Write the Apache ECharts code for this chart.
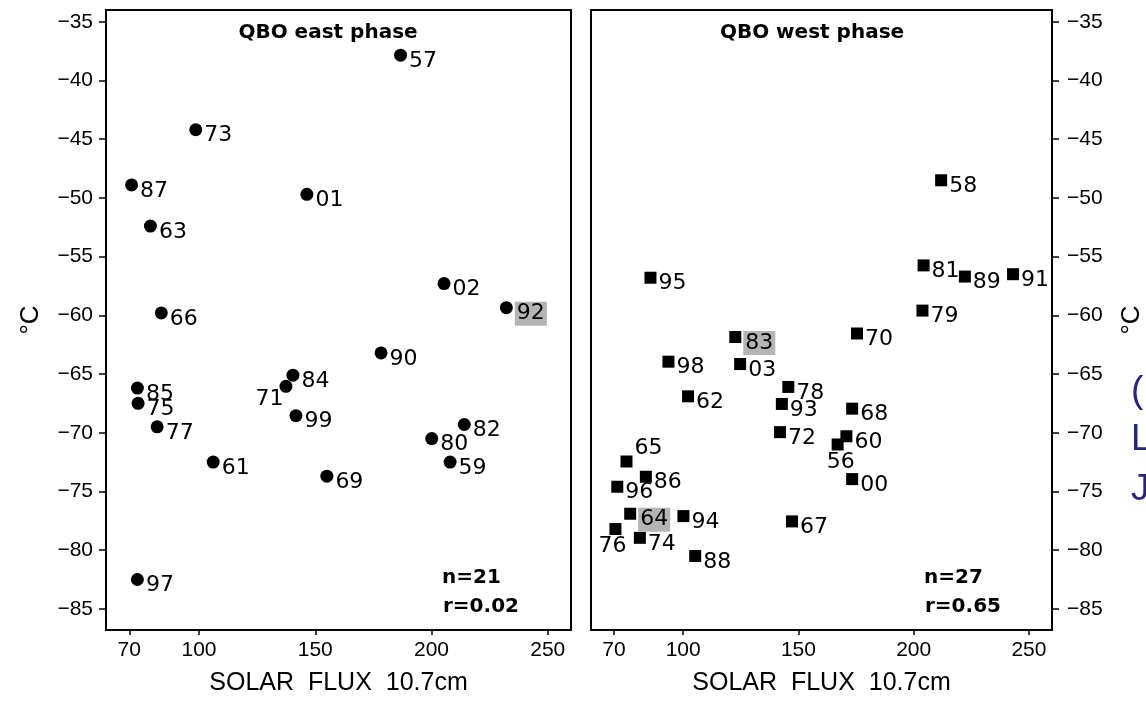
<!DOCTYPE html>
<html>
<head>
<meta charset="utf-8">
<script src="https://cdn.jsdelivr.net/npm/echarts@6/dist/echarts.min.js"></script>
<style>
    html, body { margin: 0; padding: 0; background: #fff; }
    #main { width: 1146px; height: 701px; }
</style>
</head>
<body>
<div id="main"></div>
<script>
    // QBO east phase (circles)
    var eastYear = ['57', '73', '87', '01', '63', '02', '92', '66', '90', '84', '71', '85', '75', '99', '77', '61', '69', '80', '82', '59', '97'];
    var eastFlux = [186.7, 98.6, 71.0, 146.4, 79.1, 205.4, 232.2, 83.8, 178.3, 140.4, 137.4, 73.5, 73.8, 141.7, 82.0, 106.1, 155.0, 200.1, 214.1, 208.0, 73.5];
    var eastTemp = [-37.85, -44.2, -48.9, -49.7, -52.4, -57.3, -59.35, -59.8, -63.2, -65.1, -66.05, -66.2, -67.5, -68.55, -69.5, -72.5, -73.7, -70.5, -69.3, -72.5, -82.5];

    // QBO west phase (squares)
    var westYear = ['58', '95', '81', '89', '91', '79', '83', '70', '98', '03', '78', '62', '93', '68', '72', '60', '56', '65', '86', '00', '96', '64', '94', '67', '76', '74', '88'];
    var westFlux = [211.9, 85.8, 204.3, 222.2, 243.1, 203.8, 122.6, 175.4, 93.6, 124.7, 145.6, 102.1, 142.8, 173.3, 142.0, 170.8, 167.0, 75.4, 83.8, 173.3, 71.4, 77.0, 100.1, 147.2, 70.6, 81.2, 105.2];
    var westTemp = [-48.5, -56.8, -55.75, -56.7, -56.5, -59.6, -61.85, -61.55, -63.95, -64.15, -66.1, -66.9, -67.55, -67.95, -69.95, -70.3, -71.0, -72.45, -73.75, -73.95, -74.6, -76.9, -77.1, -77.55, -78.2, -78.95, -80.5];

    var xTicks = [70, 100, 150, 200, 250];
    var yTicks = [-85, -80, -75, -70, -65, -60, -55, -50, -45, -40, -35];
    var boxed = ['92', '83', '64'];

    // labels not sitting to the right of their mark
    var labelPlace = {
        '71': {position: 'left', distance: 0, offset: [4, 13]},
        '76': {position: 'bottom', distance: 0, offset: [-3, 0]},
        '56': {position: 'bottom', distance: 1, offset: [3, 0]},
        '65': {position: 'right', offset: [0, -13]}
    };

    function makeData(xs, ys, yrs) {
        return xs.map(function (x, i) {
            var lab = {};
            if (labelPlace[yrs[i]]) Object.assign(lab, labelPlace[yrs[i]]);
            if (boxed.indexOf(yrs[i]) >= 0) {
                lab.backgroundColor = '#b4b4b4';
                lab.padding = [1, 2];
            }
            return {value: [x, ys[i], yrs[i]], label: lab};
        });
    }

    var minus = function (v) { return String(v).replace('-', '\u2212'); };
    var tickFont = {fontFamily: 'Liberation Sans', fontSize: 21, color: '#000'};

    function xAxisOf(gi) {
        return {
            gridIndex: gi, type: 'value', min: 60, max: 260,
            name: 'SOLAR  FLUX  10.7cm', nameLocation: 'middle', nameGap: 41,
            nameTextStyle: {fontFamily: 'Liberation Sans', fontSize: 25, color: '#000'},
            axisLine: {show: true, onZero: false, lineStyle: {color: '#000', width: 2}},
            axisTick: {show: true, customValues: xTicks, length: 5, lineStyle: {color: '#000', width: 1.5}},
            axisLabel: Object.assign({customValues: xTicks, margin: 10}, tickFont),
            splitLine: {show: false}
        };
    }

    function yAxisOf(gi, pos) {
        return {
            gridIndex: gi, type: 'value', min: -86.8, max: -34, position: pos,
            name: '°C', nameLocation: 'middle', nameRotate: 90, nameGap: pos === 'left' ? 62 : 67,
            nameTextStyle: {fontFamily: 'Liberation Sans', fontSize: 26, color: '#000'},
            axisLine: {show: true, onZero: false, lineStyle: {color: '#000', width: 2}},
            axisTick: {show: true, customValues: yTicks, length: 7, lineStyle: {color: '#000', width: 1.5}},
            axisLabel: Object.assign({customValues: yTicks, margin: pos === 'left' ? 13 : 15, formatter: minus}, tickFont),
            splitLine: {show: false}
        };
    }

    var pointLabel = {
        show: true, position: 'right', distance: 2, offset: [0, 6],
        formatter: function (p) { return p.value[2]; },
        fontFamily: 'DejaVu Sans', fontSize: 22, color: '#000', opacity: 1
    };

    function txt(x, y, s, size, weight) {
        return {
            type: 'text', x: x, y: y,
            style: {text: s, fontFamily: 'DejaVu Sans', fontSize: size, fontWeight: weight, fill: '#000', align: 'left', verticalAlign: 'middle'}
        };
    }

    var myChart = echarts.init(document.getElementById('main'));
    var option = {
        backgroundColor: '#fff',
        animation: false,
        grid: [
            {left: 106, top: 10, width: 465, height: 621, show: true, borderColor: '#000', borderWidth: 2},
            {left: 591, top: 10, width: 462, height: 621, show: true, borderColor: '#000', borderWidth: 2}
        ],
        xAxis: [xAxisOf(0), xAxisOf(1)],
        yAxis: [yAxisOf(0, 'left'), yAxisOf(1, 'right')],
        series: [
            {
                type: 'scatter', xAxisIndex: 0, yAxisIndex: 0,
                symbol: 'circle', symbolSize: 13,
                itemStyle: {color: '#000', opacity: 1},
                label: pointLabel,
                data: makeData(eastFlux, eastTemp, eastYear)
            },
            {
                type: 'scatter', xAxisIndex: 1, yAxisIndex: 1,
                symbol: 'rect', symbolSize: 12,
                itemStyle: {color: '#000', opacity: 1},
                label: pointLabel,
                data: makeData(westFlux, westTemp, westYear)
            }
        ],
        graphic: [
            {
                type: 'text', x: 328, y: 33,
                style: {text: 'QBO east phase', fontFamily: 'DejaVu Sans', fontSize: 20, fontWeight: 'bold', fill: '#000', align: 'center', verticalAlign: 'middle'}
            },
            {
                type: 'text', x: 812, y: 33,
                style: {text: 'QBO west phase', fontFamily: 'DejaVu Sans', fontSize: 20, fontWeight: 'bold', fill: '#000', align: 'center', verticalAlign: 'middle'}
            },
            txt(442, 578, 'n=21', 20, 'bold'),
            txt(443, 607, 'r=0.02', 20, 'bold'),
            txt(924, 578, 'n=27', 20, 'bold'),
            txt(925, 607, 'r=0.65', 20, 'bold'),
            {
                type: 'text', x: 1131, y: 392,
                style: {text: '(', fontFamily: 'Liberation Sans', fontSize: 37, fill: '#25257f', align: 'left', verticalAlign: 'middle'}
            },
            {
                type: 'text', x: 1131, y: 440,
                style: {text: 'L', fontFamily: 'Liberation Sans', fontSize: 37, fill: '#25257f', align: 'left', verticalAlign: 'middle'}
            },
            {
                type: 'text', x: 1131, y: 490,
                style: {text: 'J', fontFamily: 'Liberation Sans', fontSize: 37, fill: '#25257f', align: 'left', verticalAlign: 'middle'}
            }
        ]
    };
    myChart.setOption(option);
</script>
</body>
</html>
